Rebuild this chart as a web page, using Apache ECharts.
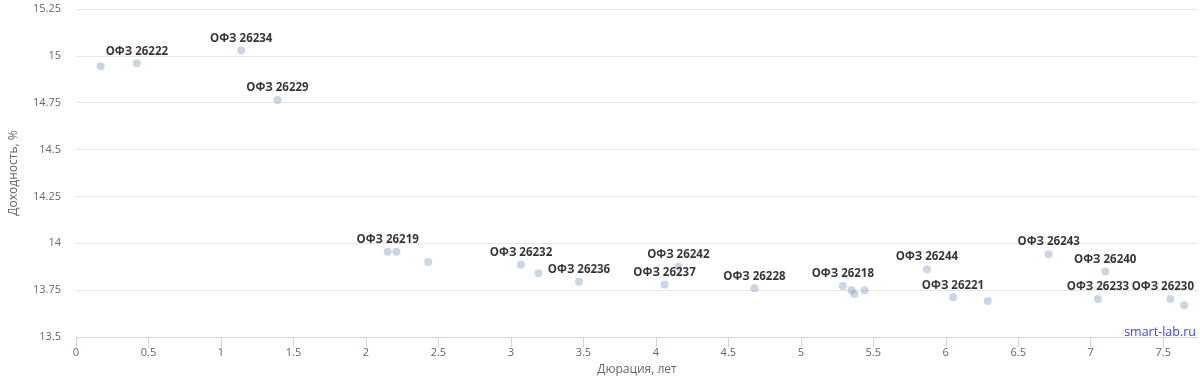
<!DOCTYPE html>
<html><head><meta charset="utf-8">
<script src="https://cdn.jsdelivr.net/npm/echarts@6/dist/echarts.min.js"></script>
<style>html,body{margin:0;padding:0;background:#fff}#c{width:1200px;height:388px}</style>
</head><body><div id="c"></div>
<script>
const durations = [0.17, 0.42, 1.14, 1.39, 2.15, 2.21, 2.43, 3.07, 3.19, 3.47, 4.06, 4.155, 4.68, 5.29, 5.35, 5.37, 5.44, 5.87, 6.05, 6.29, 6.71, 7.10, 7.05, 7.55, 7.645];
const yields    = [14.945, 14.96, 15.03, 14.765, 13.955, 13.955, 13.90, 13.885, 13.84, 13.795, 13.78, 13.875, 13.76, 13.772, 13.75, 13.73, 13.75, 13.862, 13.712, 13.692, 13.942, 13.85, 13.703, 13.703, 13.67];
const names     = [null, 'ОФЗ 26222', 'ОФЗ 26234', 'ОФЗ 26229', 'ОФЗ 26219', null, null, 'ОФЗ 26232', null, 'ОФЗ 26236', 'ОФЗ 26237', 'ОФЗ 26242', 'ОФЗ 26228', 'ОФЗ 26218', null, null, null, 'ОФЗ 26244', 'ОФЗ 26221', null, 'ОФЗ 26243', 'ОФЗ 26240', 'ОФЗ 26233', 'ОФЗ 26230', null];
const xTicks = [0, 0.5, 1, 1.5, 2, 2.5, 3, 3.5, 4, 4.5, 5, 5.5, 6, 6.5, 7, 7.5];
const yTicks = [13.5, 13.75, 14, 14.25, 14.5, 14.75, 15, 15.25];

const font = '"Open Sans", "DejaVu Sans", sans-serif';
const data = durations.map((d, i) => ({
  value: [d, yields[i]],
  name: names[i] || '',
  label: { show: !!names[i] }
}));

const chart = echarts.init(document.getElementById('c'), null, { renderer: 'canvas' });
chart.setOption({
  animation: false,
  grid: { left: 75, right: 2, top: 9, bottom: 51, containLabel: false },
  xAxis: {
    type: 'value', min: 0, max: 7.74,
    name: 'Дюрация, лет', nameLocation: 'middle', nameGap: 27,
    nameTextStyle: { color: '#666666', fontSize: 12, fontFamily: font },
    axisLine: { show: true, lineStyle: { color: '#ccd6eb', width: 1 } },
    axisTick: { show: true, length: 10, lineStyle: { color: '#ccd6eb' }, customValues: xTicks },
    axisLabel: { color: '#666666', fontSize: 11, fontFamily: font, margin: 10, customValues: xTicks },
    splitLine: { show: false }
  },
  yAxis: {
    type: 'value', min: 13.5, max: 15.25, interval: 0.25,
    name: 'Доходность, %', nameLocation: 'middle', nameGap: 56, nameRotate: 90,
    nameTextStyle: { color: '#666666', fontSize: 12, fontFamily: font },
    axisLine: { show: false }, axisTick: { show: false },
    axisLabel: { color: '#666666', fontSize: 11, fontFamily: font, margin: 15 },
    splitLine: { show: true, lineStyle: { color: '#e6e6e6', width: 1 } }
  },
  series: [{
    type: 'scatter',
    symbolSize: 8,
    itemStyle: { color: 'rgba(119,152,191,0.5)' },
    label: {
      position: 'top', distance: 2,
      formatter: p => p.name,
      color: '#000000', fontSize: 11.5, fontWeight: 'bold', fontFamily: font
    },
    labelLayout: function (p) {
      const r = p.labelRect;
      const over = r.x + r.width - 1194;
      return over > 0 ? { dx: -over, hideOverlap: false } : { hideOverlap: false };
    },
    data: data
  }],
  graphic: [{
    type: 'text', right: 4, top: 326,
    style: { text: 'smart-lab.ru', fill: '#4040ff', fontSize: 12.5, fontFamily: font }
  }]
});
</script></body></html>
